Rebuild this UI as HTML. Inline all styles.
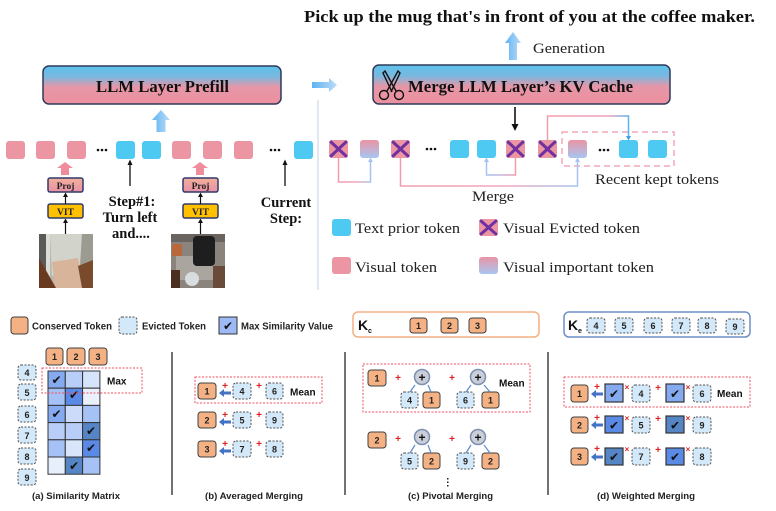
<!DOCTYPE html>
<html><head><meta charset="utf-8"><style>
html,body{margin:0;padding:0;background:#fff;}
svg{display:block;}
.s{font-family:"Liberation Serif",serif;}
.sb{font-family:"Liberation Serif",serif;font-weight:bold;}
.a{font-family:"Liberation Sans",Arial,sans-serif;font-weight:bold;}
.ck{font-family:"DejaVu Sans",sans-serif;}
</style></head><body>
<svg width="776" height="511" viewBox="0 0 776 511" xmlns="http://www.w3.org/2000/svg">
<defs>
<linearGradient id="bx" x1="0" y1="0" x2="0" y2="1">
<stop offset="0" stop-color="#5cc2ea"/><stop offset="0.28" stop-color="#7ab8e0"/>
<stop offset="0.55" stop-color="#e597a8"/><stop offset="1" stop-color="#ec909e"/>
</linearGradient>
<linearGradient id="imp" x1="0" y1="0" x2="0" y2="1">
<stop offset="0" stop-color="#ea94a4"/><stop offset="1" stop-color="#a8c6f2"/>
</linearGradient>
<linearGradient id="ar" x1="0" y1="0" x2="1" y2="0">
<stop offset="0" stop-color="#5fb3f2"/><stop offset="1" stop-color="#bcdcf7"/>
</linearGradient>
<linearGradient id="pj" x1="0" y1="0" x2="0" y2="1">
<stop offset="0" stop-color="#f3b09c"/><stop offset="1" stop-color="#e891a6"/>
</linearGradient>
<linearGradient id="pb" x1="0" y1="0" x2="1" y2="0">
<stop offset="0" stop-color="#f29cb0"/><stop offset="0.6" stop-color="#f0a8bc"/><stop offset="1" stop-color="#a6c2f0"/>
</linearGradient>
<linearGradient id="bp" x1="0" y1="0" x2="1" y2="0">
<stop offset="0" stop-color="#a6c2f0"/><stop offset="0.5" stop-color="#c6b6e0"/><stop offset="1" stop-color="#f29cb0"/>
</linearGradient>
<linearGradient id="pb2" x1="0" y1="0" x2="1" y2="0">
<stop offset="0" stop-color="#f29cb0"/><stop offset="0.75" stop-color="#f0a0b8"/><stop offset="1" stop-color="#5ab4ee"/>
</linearGradient>
</defs>

<!-- Title -->
<text class="sb" x="304" y="22" font-size="17" textLength="451" lengthAdjust="spacingAndGlyphs" fill="#111">Pick up the mug that's in front of you at the coffee maker.</text>

<!-- Generation arrow -->
<polygon points="513,32 521,43 517,43 517,60 509,60 509,43 505,43" fill="url(#ar)"/>
<text class="s" x="533" y="53" font-size="15" textLength="72" lengthAdjust="spacingAndGlyphs" fill="#222">Generation</text>

<!-- Prefill box -->
<rect x="43" y="66" width="238" height="38" rx="6" fill="url(#bx)" stroke="#2f3a5a" stroke-width="1.5"/>
<text class="sb" x="96" y="92" font-size="17" textLength="133" lengthAdjust="spacingAndGlyphs" fill="#111">LLM Layer Prefill</text>
<polygon points="161,110 170,120 165.5,120 165.5,132 156.5,132 156.5,120 152,120" fill="url(#ar)"/>

<!-- Right arrow -->
<polygon points="337,85 329,78 329,82 312,82 312,88 329,88 329,92" fill="url(#ar)"/>

<!-- Merge box -->
<rect x="373" y="65" width="297" height="39" rx="6" fill="url(#bx)" stroke="#2f3a5a" stroke-width="1.5"/>
<g stroke="#111" stroke-width="1.4" fill="none">
<circle cx="384" cy="95" r="4.5"/><circle cx="399" cy="95" r="4.5"/>
<path d="M387,91 L398,71 L400,73 L391,92"/>
<path d="M396,91 L385,71 L383,73 L392,92"/>
</g>
<text class="sb" x="408" y="92" font-size="17" textLength="225" lengthAdjust="spacingAndGlyphs" fill="#111">Merge LLM Layer’s KV Cache</text>
<line x1="515" y1="107" x2="515" y2="125" stroke="#111" stroke-width="1.6"/>
<polygon points="511.5,124 518.5,124 515,131" fill="#111"/>

<!-- divider -->
<line x1="318" y1="100" x2="318" y2="290" stroke="#cdd8ea" stroke-width="1.2"/>

<!-- Left token row -->
<g fill="#ec95a3">
<rect x="6" y="141" width="19" height="18" rx="3"/><rect x="36" y="141" width="19" height="18" rx="3"/>
<rect x="67" y="141" width="19" height="18" rx="3"/><rect x="172" y="141" width="19" height="18" rx="3"/>
<rect x="203" y="141" width="19" height="18" rx="3"/><rect x="234" y="141" width="19" height="18" rx="3"/>
</g>
<g fill="#4dc9f2">
<rect x="116" y="141" width="19" height="18" rx="3"/><rect x="142" y="141" width="19" height="18" rx="3"/>
<rect x="294" y="141" width="19" height="18" rx="3"/>
</g>
<g fill="#111">
<circle cx="98" cy="150" r="1.3"/><circle cx="102" cy="150" r="1.3"/><circle cx="106" cy="150" r="1.3"/>
<circle cx="271" cy="150" r="1.3"/><circle cx="275" cy="150" r="1.3"/><circle cx="279" cy="150" r="1.3"/>
</g>

<!-- Vision chains -->
<polygon points="65,162 73,168 69,168 69,175 61,175 61,168 57,168" fill="#f08c9c"/>
<polygon points="200,162 208,168 204,168 204,175 196,175 196,168 192,168" fill="#f08c9c"/>
<rect x="48" y="178" width="35" height="14" rx="2" fill="url(#pj)" stroke="#2f3a6a" stroke-width="1.5"/>
<rect x="183" y="178" width="35" height="14" rx="2" fill="url(#pj)" stroke="#2f3a6a" stroke-width="1.5"/>
<text class="sb" x="65.5" y="189" font-size="9.5" text-anchor="middle" fill="#222">Proj</text>
<text class="sb" x="200.5" y="189" font-size="9.5" text-anchor="middle" fill="#222">Proj</text>
<rect x="48" y="204" width="35" height="14" rx="2" fill="#ffc000" stroke="#2f3a6a" stroke-width="1.5"/>
<rect x="183" y="204" width="35" height="14" rx="2" fill="#ffc000" stroke="#2f3a6a" stroke-width="1.5"/>
<text class="sb" x="65.5" y="215" font-size="9.5" text-anchor="middle" fill="#222">VIT</text>
<text class="sb" x="200.5" y="215" font-size="9.5" text-anchor="middle" fill="#222">VIT</text>
<g stroke="#111" stroke-width="1.2">
<line x1="65.5" y1="204" x2="65.5" y2="196"/><line x1="200.5" y1="204" x2="200.5" y2="196"/>
<line x1="65.5" y1="234" x2="65.5" y2="222"/><line x1="200.5" y1="234" x2="200.5" y2="222"/>
</g>
<g fill="#111">
<polygon points="63,197 68,197 65.5,192.5"/><polygon points="198,197 203,197 200.5,192.5"/>
<polygon points="63,223 68,223 65.5,218.5"/><polygon points="198,223 203,223 200.5,218.5"/>
</g>

<!-- Image 1 -->
<rect x="39" y="234" width="54" height="54" fill="#b8b6ad"/>
<polygon points="50,234 82,234 80,272 52,276" fill="#d2d3cb"/>
<polygon points="82,234 93,234 93,262 80,266" fill="#9b9b92"/>
<rect x="39" y="234" width="7" height="54" fill="#5a5a58"/>
<rect x="46" y="234" width="4" height="54" fill="#dcdcd6"/>
<polygon points="52,262 78,258 84,288 55,288" fill="#d8b49a"/>
<polygon points="39,258 56,288 39,288" fill="#6a3a20"/>
<polygon points="78,266 93,260 93,288 82,288" fill="#7a4a2c"/>

<!-- Image 2 -->
<rect x="171" y="234" width="54" height="54" fill="#8a847d"/>
<rect x="171" y="234" width="54" height="8" fill="#6a6460"/>
<rect x="176" y="256" width="38" height="24" fill="#aaa59e"/>
<rect x="193" y="236" width="22" height="30" rx="4" fill="#1e1e1e"/>
<rect x="172" y="244" width="10" height="12" rx="2" fill="#b8683a"/>
<rect x="171" y="270" width="9" height="18" fill="#4a2e20"/>
<rect x="213" y="266" width="12" height="22" fill="#6a4a38"/>
<ellipse cx="192" cy="279" rx="7" ry="7" fill="#d8dde0"/>

<!-- Step texts -->
<line x1="130" y1="186" x2="130" y2="164" stroke="#111" stroke-width="1.3"/>
<polygon points="127.5,165 132.5,165 130,159.5" fill="#111"/>
<line x1="285" y1="186" x2="285" y2="164" stroke="#111" stroke-width="1.3"/>
<polygon points="282.5,165 287.5,165 285,159.5" fill="#111"/>
<text class="sb" x="132" y="206" font-size="14.5" text-anchor="middle" fill="#111">Step#1:</text>
<text class="sb" x="130" y="222" font-size="14.5" text-anchor="middle" fill="#111">Turn left</text>
<text class="sb" x="131" y="238" font-size="14.5" text-anchor="middle" fill="#111">and....</text>
<text class="sb" x="286" y="207" font-size="14.5" text-anchor="middle" fill="#111">Current</text>
<text class="sb" x="286" y="223" font-size="14.5" text-anchor="middle" fill="#111">Step:</text>

<!-- Right token row -->
<g fill="#ec95a3">
<rect x="329" y="140" width="19" height="18" rx="3"/><rect x="391" y="140" width="19" height="18" rx="3"/>
<rect x="506" y="140" width="19" height="18" rx="3"/><rect x="538" y="140" width="19" height="18" rx="3"/>
</g>
<g fill="url(#imp)">
<rect x="360" y="140" width="19" height="18" rx="3"/><rect x="568" y="140" width="19" height="18" rx="3"/>
</g>
<g fill="#4dc9f2">
<rect x="450" y="140" width="19" height="18" rx="3"/><rect x="477" y="140" width="19" height="18" rx="3"/>
<rect x="619" y="140" width="19" height="18" rx="3"/><rect x="648" y="140" width="19" height="18" rx="3"/>
</g>
<g stroke="#7030a0" stroke-width="3" stroke-linecap="round">
<path d="M331,142 L346,156 M346,142 L331,156"/>
<path d="M393,142 L408,156 M408,142 L393,156"/>
<path d="M508,142 L523,156 M523,142 L508,156"/>
<path d="M540,142 L555,156 M555,142 L540,156"/>
</g>
<g fill="#111">
<circle cx="427" cy="149" r="1.3"/><circle cx="431" cy="149" r="1.3"/><circle cx="435" cy="149" r="1.3"/>
<circle cx="600" cy="150" r="1.3"/><circle cx="604" cy="150" r="1.3"/><circle cx="608" cy="150" r="1.3"/>
</g>
<rect x="562" y="132" width="112" height="34" fill="none" stroke="#f4a7b9" stroke-width="1.5" stroke-dasharray="6,4"/>

<!-- connectors -->
<g fill="none" stroke-width="1.5">
<path d="M338.5,158 V182 H370.5 V161" stroke="url(#pb)"/>
<path d="M400.5,158 V186 H577.5 V161" stroke="url(#pb)"/>
<path d="M515.5,158 V175 H486.5 V161" stroke="url(#bp)"/>
<path d="M547.5,140 V116 H628.5 V137" stroke="url(#pb2)"/>
</g>
<g fill="#a6c2f0">
<polygon points="368,162 373,162 370.5,157.5"/>
<polygon points="575,162 580,162 577.5,157.5"/>
<polygon points="484,162 489,162 486.5,157.5"/>
</g>
<polygon points="626,136 631,136 628.5,140.5" fill="#3aa2e8"/>

<text class="s" x="472" y="201" font-size="15" textLength="42" lengthAdjust="spacingAndGlyphs" fill="#222">Merge</text>
<text class="s" x="595" y="184" font-size="15" textLength="124" lengthAdjust="spacingAndGlyphs" fill="#222">Recent kept tokens</text>

<!-- Legend right -->
<rect x="332" y="219" width="19" height="17" rx="3" fill="#4dc9f2"/>
<rect x="479" y="219" width="19" height="17" rx="3" fill="#ec95a3"/>
<path d="M481,221 L496,234 M496,221 L481,234" stroke="#7030a0" stroke-width="3" stroke-linecap="round"/>
<rect x="332" y="257" width="19" height="17" rx="3" fill="#ec95a3"/>
<rect x="479" y="257" width="19" height="17" rx="3" fill="url(#imp)"/>
<text class="s" x="355" y="233" font-size="15" textLength="105" lengthAdjust="spacingAndGlyphs" fill="#222">Text prior token</text>
<text class="s" x="503" y="233" font-size="15" textLength="137" lengthAdjust="spacingAndGlyphs" fill="#222">Visual Evicted token</text>
<text class="s" x="355" y="272" font-size="15" textLength="82" lengthAdjust="spacingAndGlyphs" fill="#222">Visual token</text>
<text class="s" x="503" y="272" font-size="15" textLength="151" lengthAdjust="spacingAndGlyphs" fill="#222">Visual important token</text>

<!-- ===== Bottom ===== -->
<rect x="11" y="317" width="17" height="17" rx="3" fill="#f4b183" stroke="#404040" stroke-width="1"/>
<text class="a" x="32" y="329.5" font-size="10" textLength="80" lengthAdjust="spacingAndGlyphs" fill="#222">Conserved Token</text>
<rect x="119" y="317" width="18" height="17" rx="3" fill="#d3e8f8" stroke="#505050" stroke-width="1" stroke-dasharray="2,1.5"/>
<text class="a" x="142" y="329.5" font-size="10" textLength="64" lengthAdjust="spacingAndGlyphs" fill="#222">Evicted Token</text>
<rect x="219" y="317" width="18" height="17" fill="#9dbaf5" stroke="#333" stroke-width="1"/>
<text class="ck" x="228" y="330" font-size="12" text-anchor="middle" fill="#111">✔</text>
<text class="a" x="241" y="329.5" font-size="10" textLength="92" lengthAdjust="spacingAndGlyphs" fill="#222">Max Similarity Value</text>

<rect x="353" y="312" width="186" height="25" rx="5" fill="none" stroke="#f4b183" stroke-width="1.5"/>
<text class="a" x="358" y="330" font-size="14" fill="#111">K</text>
<text class="a" x="368" y="333" font-size="7" fill="#111">c</text>
<rect x="564" y="312" width="186" height="25" rx="5" fill="none" stroke="#6f8fc8" stroke-width="1.5"/>
<text class="a" x="568" y="330" font-size="14" fill="#111">K</text>
<text class="a" x="578" y="333" font-size="7" fill="#111">e</text>

<!-- K tokens -->
<g fill="#f4b183" stroke="#404040" stroke-width="1">
<rect x="410" y="318" width="17" height="15" rx="3"/><rect x="441" y="318" width="17" height="15" rx="3"/><rect x="469" y="318" width="17" height="15" rx="3"/>
</g>
<g fill="#d3e8f8" stroke="#505050" stroke-width="1" stroke-dasharray="2,1.5">
<rect x="587" y="318" width="18" height="15" rx="3"/><rect x="615" y="318" width="18" height="15" rx="3"/>
<rect x="644" y="318" width="18" height="15" rx="3"/><rect x="672" y="318" width="18" height="15" rx="3"/>
<rect x="698" y="318" width="18" height="15" rx="3"/><rect x="726" y="319" width="18" height="15" rx="3"/>
</g>
<g class="a" font-size="9" text-anchor="middle" fill="#222">
<text x="418.5" y="329">1</text><text x="449.5" y="329">2</text><text x="477.5" y="329">3</text>
<text x="596" y="329">4</text><text x="624" y="329">5</text><text x="653" y="329">6</text>
<text x="681" y="329">7</text><text x="707" y="329">8</text><text x="735" y="330">9</text>
</g>

<!-- (a) similarity matrix -->
<g fill="#f4b183" stroke="#404040" stroke-width="1">
<rect x="46" y="348" width="17" height="17" rx="3"/><rect x="67" y="348" width="18" height="17" rx="3"/><rect x="89" y="348" width="18" height="17" rx="3"/>
</g>
<g fill="#d3e8f8" stroke="#505050" stroke-width="1" stroke-dasharray="2,1.5">
<rect x="18" y="365" width="18" height="15" rx="3"/><rect x="18" y="384" width="18" height="16" rx="3"/>
<rect x="18" y="406" width="18" height="16" rx="3"/><rect x="18" y="427" width="18" height="16" rx="3"/>
<rect x="18" y="448" width="18" height="16" rx="3"/><rect x="18" y="469" width="18" height="16" rx="3"/>
</g>
<g class="a" font-size="9" text-anchor="middle" fill="#222">
<text x="54.5" y="360">1</text><text x="76" y="360">2</text><text x="98" y="360">3</text>
<text x="27" y="376">4</text><text x="27" y="396">5</text><text x="27" y="418">6</text>
<text x="27" y="439">7</text><text x="27" y="460">8</text><text x="27" y="481">9</text>
</g>
<g stroke="#333" stroke-width="1">
<rect x="48" y="371" width="17.3" height="17.2" fill="#86aaf0"/><rect x="65.3" y="371" width="17.3" height="17.2" fill="#b8cdf8"/><rect x="82.6" y="371" width="17.3" height="17.2" fill="#d5e3fb"/>
<rect x="48" y="388.2" width="17.3" height="17.2" fill="#a6c1f6"/><rect x="65.3" y="388.2" width="17.3" height="17.2" fill="#5b8ae6"/><rect x="82.6" y="388.2" width="17.3" height="17.2" fill="#eaf1fc"/>
<rect x="48" y="405.4" width="17.3" height="17.2" fill="#86aaf0"/><rect x="65.3" y="405.4" width="17.3" height="17.2" fill="#cbdbf9"/><rect x="82.6" y="405.4" width="17.3" height="17.2" fill="#a6c1f6"/>
<rect x="48" y="422.6" width="17.3" height="17.2" fill="#b8cdf8"/><rect x="65.3" y="422.6" width="17.3" height="17.2" fill="#b8cdf8"/><rect x="82.6" y="422.6" width="17.3" height="17.2" fill="#5585c4"/>
<rect x="48" y="439.8" width="17.3" height="17.2" fill="#a6c1f6"/><rect x="65.3" y="439.8" width="17.3" height="17.2" fill="#d8e5fb"/><rect x="82.6" y="439.8" width="17.3" height="17.2" fill="#5b8ae6"/>
<rect x="48" y="457" width="17.3" height="17.2" fill="#e8effc"/><rect x="65.3" y="457" width="17.3" height="17.2" fill="#5585c4"/><rect x="82.6" y="457" width="17.3" height="17.2" fill="#a6c1f6"/>
</g>
<g class="ck" font-size="12" text-anchor="middle" fill="#111">
<text x="56.5" y="384">✔</text><text x="74" y="399">✔</text><text x="56.5" y="418">✔</text>
<text x="91" y="435">✔</text><text x="91" y="452">✔</text><text x="74" y="470">✔</text>
</g>
<rect x="42" y="368" width="100" height="25" fill="none" stroke="#f05060" stroke-width="1" stroke-dasharray="2,1.5"/>
<text class="a" x="107" y="384.5" font-size="10" fill="#111">Max</text>
<text class="a" x="32" y="499" font-size="9.5" textLength="88" lengthAdjust="spacingAndGlyphs" fill="#222">(a) Similarity Matrix</text>

<!-- dividers -->
<g stroke="#444" stroke-width="1.5">
<line x1="172" y1="352" x2="172" y2="495"/><line x1="345" y1="352" x2="345" y2="495"/><line x1="548" y1="352" x2="548" y2="495"/>
</g>

<!-- (b) -->
<rect x="195" y="377" width="127" height="26" fill="none" stroke="#f05060" stroke-width="1" stroke-dasharray="2,1.5"/>
<g fill="#f4b183" stroke="#404040" stroke-width="1">
<rect x="198" y="383" width="18" height="16" rx="3"/><rect x="198" y="412" width="18" height="16" rx="3"/><rect x="198" y="441" width="18" height="16" rx="3"/>
</g>
<g fill="#d3e8f8" stroke="#505050" stroke-width="1" stroke-dasharray="2,1.5">
<rect x="233" y="383" width="18" height="16" rx="3"/><rect x="266" y="383" width="17" height="16" rx="3"/>
<rect x="233" y="412" width="18" height="16" rx="3"/><rect x="266" y="412" width="17" height="16" rx="3"/>
<rect x="233" y="441" width="18" height="16" rx="3"/><rect x="266" y="441" width="17" height="16" rx="3"/>
</g>
<g class="a" font-size="9" text-anchor="middle" fill="#222">
<text x="207" y="394.5">1</text><text x="242" y="394.5">4</text><text x="274.5" y="394.5">6</text>
<text x="207" y="423.5">2</text><text x="242" y="423.5">5</text><text x="274.5" y="423.5">9</text>
<text x="207" y="452.5">3</text><text x="242" y="452.5">7</text><text x="274.5" y="452.5">8</text>
</g>
<g fill="#4472c4">
<polygon points="219,393 224,389 224,391.5 231,391.5 231,394.5 224,394.5 224,397"/>
<polygon points="219,422 224,418 224,420.5 231,420.5 231,423.5 224,423.5 224,426"/>
<polygon points="219,451 224,447 224,449.5 231,449.5 231,452.5 224,452.5 224,455"/>
</g>
<g class="a" font-size="10" text-anchor="middle" fill="#e02020">
<text x="225" y="389">+</text><text x="259" y="389">+</text>
<text x="225" y="418">+</text><text x="259" y="418">+</text>
<text x="225" y="447">+</text><text x="259" y="447">+</text>
</g>
<text class="a" x="290" y="395.5" font-size="10" fill="#111">Mean</text>
<text class="a" x="205" y="499" font-size="9.5" textLength="98" lengthAdjust="spacingAndGlyphs" fill="#222">(b) Averaged Merging</text>

<!-- (c) -->
<rect x="363" y="364" width="167" height="48" fill="none" stroke="#f05060" stroke-width="1" stroke-dasharray="2,1.5"/>
<g fill="#f4b183" stroke="#404040" stroke-width="1">
<rect x="368" y="370" width="18" height="16" rx="3"/><rect x="423" y="392" width="17" height="16" rx="3"/><rect x="482" y="392" width="17" height="16" rx="3"/>
<rect x="368" y="432" width="18" height="16" rx="3"/><rect x="423" y="453" width="17" height="16" rx="3"/><rect x="482" y="453" width="17" height="16" rx="3"/>
</g>
<g fill="#d3e8f8" stroke="#505050" stroke-width="1" stroke-dasharray="2,1.5">
<rect x="401" y="392" width="17" height="16" rx="3"/><rect x="457" y="392" width="17" height="16" rx="3"/>
<rect x="401" y="453" width="17" height="16" rx="3"/><rect x="457" y="453" width="17" height="16" rx="3"/>
</g>
<g class="a" font-size="9" text-anchor="middle" fill="#222">
<text x="377" y="381.5">1</text><text x="409.5" y="403.5">4</text><text x="431.5" y="403.5">1</text><text x="465.5" y="403.5">6</text><text x="490.5" y="403.5">1</text>
<text x="377" y="443.5">2</text><text x="409.5" y="464.5">5</text><text x="431.5" y="464.5">2</text><text x="465.5" y="464.5">9</text><text x="490.5" y="464.5">2</text>
</g>
<g fill="#c9ced8" stroke="#7d8fb0" stroke-width="1.5">
<circle cx="422" cy="377" r="7.5"/><circle cx="478" cy="377" r="7.5"/>
<circle cx="422" cy="437" r="7.5"/><circle cx="478" cy="437" r="7.5"/>
</g>
<g class="a" font-size="12" text-anchor="middle" fill="#111">
<text x="422" y="381.5">+</text><text x="478" y="381.5">+</text>
<text x="422" y="441.5">+</text><text x="478" y="441.5">+</text>
</g>
<g stroke="#5b8bd0" stroke-width="1.2">
<line x1="410" y1="392" x2="415" y2="385"/><line x1="431" y1="392" x2="428" y2="385"/>
<line x1="466" y1="392" x2="471" y2="385"/><line x1="490" y1="392" x2="484" y2="385"/>
<line x1="410" y1="453" x2="415" y2="445"/><line x1="431" y1="453" x2="428" y2="445"/>
<line x1="466" y1="453" x2="471" y2="445"/><line x1="490" y1="453" x2="484" y2="445"/>
</g>
<g class="a" font-size="10" text-anchor="middle" fill="#e02020">
<text x="398" y="381">+</text><text x="452" y="381">+</text>
<text x="398" y="442">+</text><text x="452" y="442">+</text>
</g>
<text class="a" x="499" y="386.5" font-size="10" fill="#111">Mean</text>
<g fill="#222"><rect x="447" y="478" width="1.5" height="1.5"/><rect x="447" y="481.5" width="1.5" height="1.5"/><rect x="447" y="485" width="1.5" height="1.5"/></g>
<text class="a" x="408" y="499" font-size="9.5" textLength="85" lengthAdjust="spacingAndGlyphs" fill="#222">(c) Pivotal Merging</text>

<!-- (d) -->
<rect x="564" y="377" width="186" height="30" fill="none" stroke="#f05060" stroke-width="1" stroke-dasharray="2,1.5"/>
<g fill="#f4b183" stroke="#404040" stroke-width="1">
<rect x="571" y="385" width="17" height="17" rx="3"/><rect x="571" y="417" width="17" height="16" rx="3"/><rect x="571" y="448" width="17" height="17" rx="3"/>
</g>
<g fill="#d3e8f8" stroke="#505050" stroke-width="1" stroke-dasharray="2,1.5">
<rect x="632" y="385" width="18" height="17" rx="3"/><rect x="693" y="385" width="18" height="17" rx="3"/>
<rect x="632" y="417" width="18" height="16" rx="3"/><rect x="693" y="417" width="18" height="16" rx="3"/>
<rect x="632" y="448" width="18" height="17" rx="3"/><rect x="693" y="448" width="18" height="17" rx="3"/>
</g>
<g stroke="#333" stroke-width="1.2">
<rect x="605" y="384" width="18" height="18" fill="#86aaf0"/><rect x="666" y="384" width="18" height="18" fill="#86aaf0"/>
<rect x="605" y="416" width="18" height="17" fill="#5b8ae6"/><rect x="666" y="416" width="18" height="17" fill="#5585c4"/>
<rect x="605" y="448" width="18" height="17" fill="#5585c4"/><rect x="666" y="448" width="18" height="17" fill="#5b8ae6"/>
</g>
<g class="ck" font-size="12" text-anchor="middle" fill="#111">
<text x="614" y="398">✔</text><text x="675" y="398">✔</text>
<text x="614" y="429.5">✔</text><text x="675" y="429.5">✔</text>
<text x="614" y="461">✔</text><text x="675" y="461">✔</text>
</g>
<g class="a" font-size="9" text-anchor="middle" fill="#222">
<text x="579.5" y="397">1</text><text x="641" y="397">4</text><text x="702" y="397">6</text>
<text x="579.5" y="428.5">2</text><text x="641" y="428.5">5</text><text x="702" y="428.5">9</text>
<text x="579.5" y="460">3</text><text x="641" y="460">7</text><text x="702" y="460">8</text>
</g>
<g fill="#4472c4">
<polygon points="591,394 596,390 596,392.5 603,392.5 603,395.5 596,395.5 596,398"/>
<polygon points="591,425 596,421 596,423.5 603,423.5 603,426.5 596,426.5 596,429"/>
<polygon points="591,457 596,453 596,455.5 603,455.5 603,458.5 596,458.5 596,461"/>
</g>
<g class="a" font-size="10" text-anchor="middle" fill="#e02020">
<text x="597" y="390">+</text><text x="658" y="391">+</text>
<text x="597" y="421">+</text><text x="658" y="422">+</text>
<text x="597" y="452">+</text><text x="658" y="453">+</text>
</g>
<g class="a" font-size="8" text-anchor="middle" fill="#e02020">
<text x="627" y="390">×</text><text x="688" y="390">×</text>
<text x="627" y="421">×</text><text x="688" y="421">×</text>
<text x="627" y="452">×</text><text x="688" y="452">×</text>
</g>
<text class="a" x="717" y="397" font-size="10" fill="#111">Mean</text>
<text class="a" x="597" y="499" font-size="9.5" textLength="98" lengthAdjust="spacingAndGlyphs" fill="#222">(d) Weighted Merging</text>
</svg>
</body></html>
